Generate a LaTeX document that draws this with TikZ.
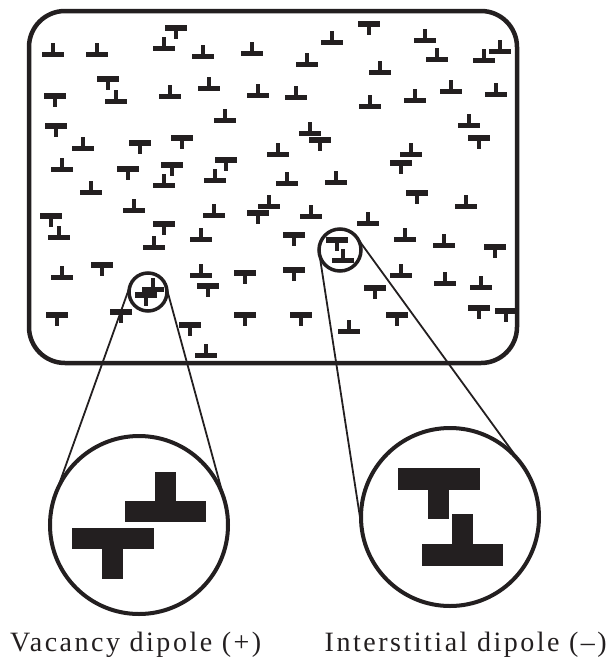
\documentclass[tikz,border=0pt]{standalone}
\usepackage{fontspec}
\setmainfont{Liberation Serif}
\newfontfamily\capfont[LetterSpace=9]{Liberation Serif}
\definecolor{ink}{RGB}{35,31,32}
\begin{document}
\begin{tikzpicture}[x=1pt,y=-1pt,
  inkfill/.style={fill=ink,draw=none},
  frame/.style={draw=ink,line width=4.5pt,rounded corners=36pt},
  smalllens/.style={circle,draw=ink,line width=3.5pt,inner sep=0pt,outer sep=0pt},
  biglens/.style={circle,draw=ink,line width=4pt,inner sep=0pt,outer sep=0pt,minimum size=178pt},
  link/.style={draw=ink,line width=1.8pt},
  caption/.style={inner sep=0pt,font=\capfont\fontsize{28}{32}\selectfont,text=ink},
  % edge dislocation, half plane above the slip plane
  pics/edgeup/.style={code={
    \fill[inkfill] (-11,1.5) rectangle (11,7);
    \fill[inkfill] (-2.2,-7) rectangle (2.2,1.6);}},
  % edge dislocation, half plane below the slip plane
  pics/edgedown/.style={code={
    \fill[inkfill] (-11,-7) rectangle (11,-1.5);
    \fill[inkfill] (-2.2,-1.6) rectangle (2.2,7);}},
]
\useasboundingbox (0,0) rectangle (613,662);

% dislocations inside the crystal
\foreach \x/\y in {53/50,97/50,164/44,203/52,252/49,307/60,332/38,425/36,437/55,
  484/56,500/47,380/68,116/97,170/92,209/84,258/91,296/93,370/102,415/96,451/87,
  496/90,225/116,469/121,310/129,83/144,62/165,164/181,91/188,134/206,59/233,
  154/243,201/235,278/150,215/176,287/179,336/178,269/202,214/211,311/212,
  368/219,411/150,466/202,405/235,444/241,401/271,445/279,481/283,349/327,
  201/271,206/351,62/273}
  \pic at (\x,\y) {edgeup};
\foreach \x/\y in {176/32,369/28,55/100,108/83,479/142,320/144,56/130,140/147,
  182/142,128/173,172/169,51/220,164/228,226/164,258/217,294/239,401/167,
  417/197,495/251,375/292,479/312,506/315,397/319,208/290,245/277,294/274,
  245/319,301/319,190/329,102/269,57/319,121/316}
  \pic at (\x,\y) {edgedown};

% the crystal
\draw[frame] (29,11) rectangle (517,363);

% dipoles picked out in the crystal
\pic at (153,285) {edgeup};
\pic at (146,299) {edgedown};
\pic at (337,244) {edgedown};
\pic at (343,256) {edgeup};
\node[smalllens,minimum size=38pt] (vsmall) at (148,292) {};
\node[smalllens,minimum size=42pt] (ismall) at (340,250) {};

% enlarged views
\node[biglens] (vbig) at (139,525) {};
\node[biglens] (ibig) at (450,517) {};

% vacancy dipole, enlarged
\fill[inkfill] (155,472) rectangle (176,502);
\fill[inkfill] (125,501) rectangle (206,522);
\fill[inkfill] (72,528) rectangle (154,549);
\fill[inkfill] (102,548) rectangle (123,579);

% interstitial dipole, enlarged
\fill[inkfill] (398,468) rectangle (480,490);
\fill[inkfill] (428,489) rectangle (449,519);
\fill[inkfill] (452,514) rectangle (473,545);
\fill[inkfill] (422,544) rectangle (503,566);

% magnifier cones
\draw[link] (vsmall.160) -- (vbig.160);
\draw[link] (vsmall.15) -- (vbig.15);
\draw[link] (ismall.189) -- (ibig.189);
\draw[link] (ismall.36) -- (ibig.36);

% labels
\node[caption,anchor=base west] (capv) at (10,651) {Vacancy dipole (+)};
\node[caption,anchor=base east] (capi) at (607,651) {Interstitial dipole (–)};
\end{tikzpicture}
\end{document}
